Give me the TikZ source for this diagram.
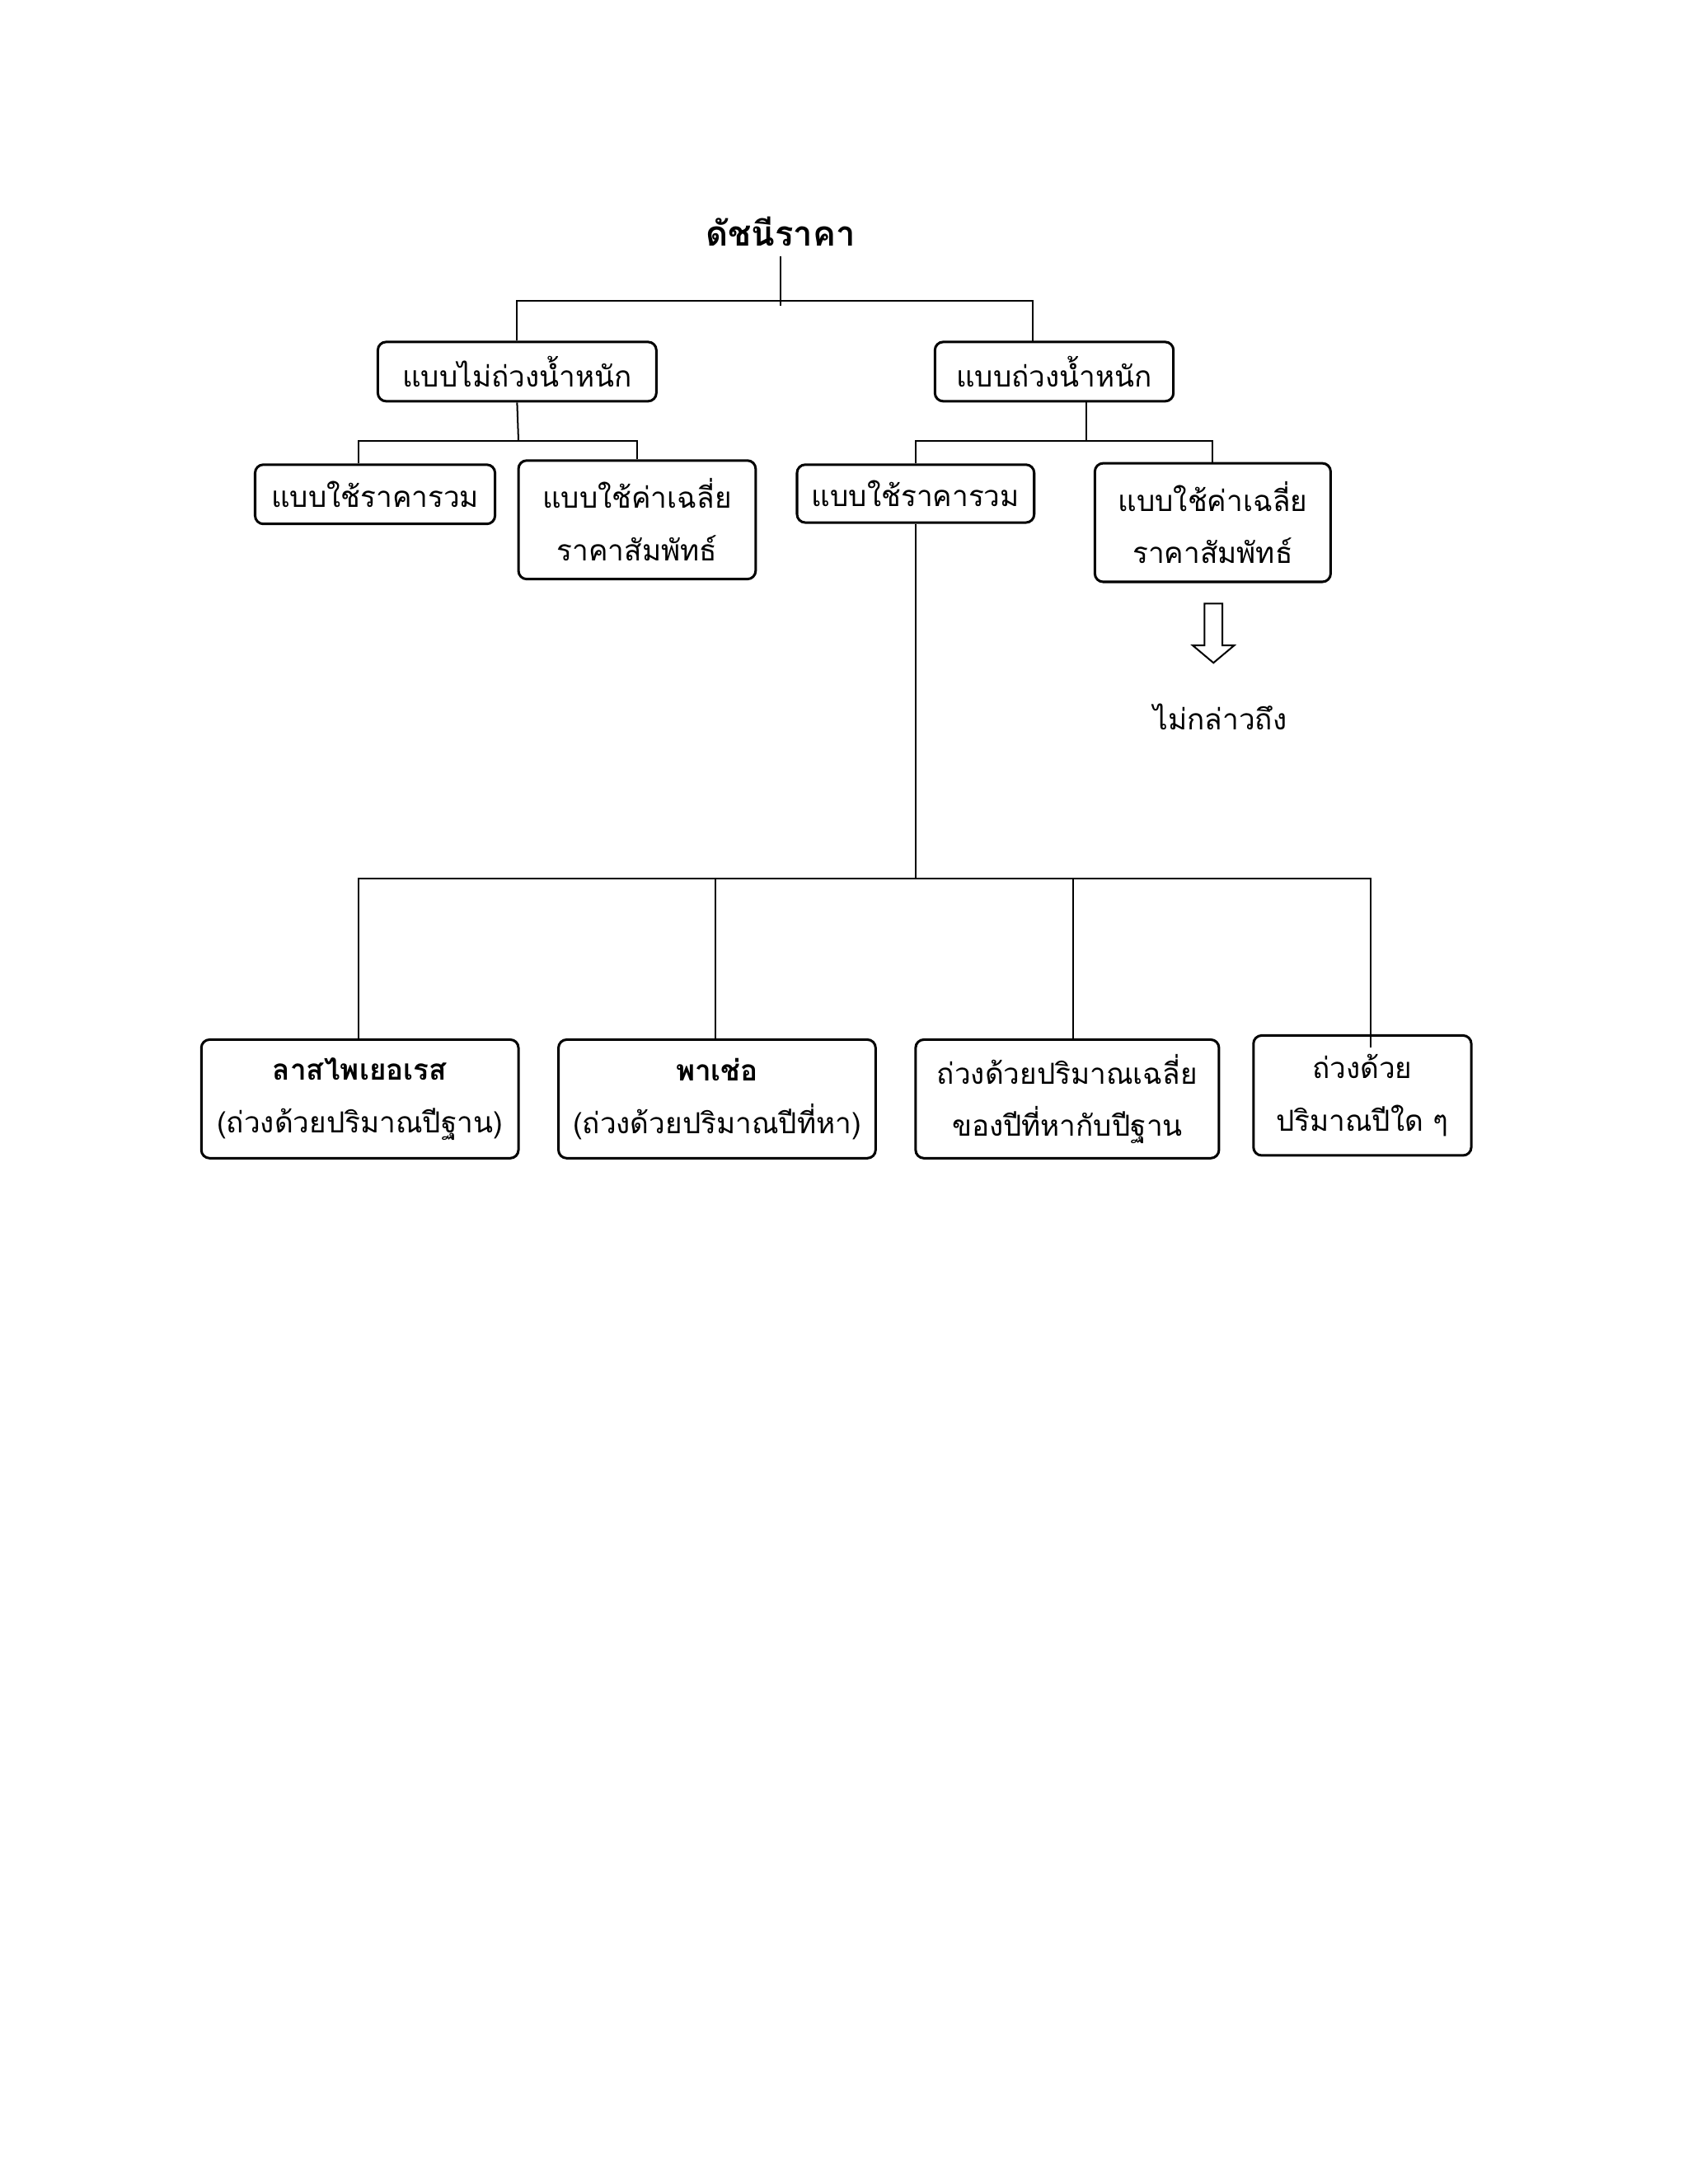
\documentclass[tikz,border=0pt]{standalone}
\usepackage{fontspec}
\newfontfamily\thaifont[Script=Thai]{Loma}
\usetikzlibrary{shapes.arrows}
\begin{document}
\begin{tikzpicture}[x=0.5pt,y=-0.5pt,
  box/.style={draw,line width=0.9pt,rounded corners=3pt,inner sep=0pt,align=center,font=\thaifont\fontsize{10.5}{19}\selectfont},
  conn/.style={line width=0.6pt}]
\useasboundingbox (0,0) rectangle (1224,1584);
\node[font=\thaifont\bfseries\fontsize{12.5}{14}\selectfont] (t) at (566,168) {ดัชนีราคา};
\node[box,minimum width=101pt,minimum height=21.5pt] (a) at (375,269.5) {แบบไม่ถ่วงน้ำหนัก};
\node[box,minimum width=86.5pt,minimum height=21.5pt] (b) at (764.5,269.5) {แบบถ่วงน้ำหนัก};
\node[box,minimum width=87pt,minimum height=21.5pt] (c) at (272,358.5) {แบบใช้ราคารวม};
\node[box,minimum width=86pt,minimum height=43pt] (d) at (462,377) {แบบใช้ค่าเฉลี่ย\\ราคาสัมพัทธ์};
\node[box,minimum width=86pt,minimum height=21pt] (e) at (664,358) {แบบใช้ราคารวม};
\node[box,minimum width=85.5pt,minimum height=43pt] (f) at (879.5,379) {แบบใช้ค่าเฉลี่ย\\ราคาสัมพัทธ์};
\node[draw,single arrow,shape border rotate=270,line width=0.6pt,minimum width=15pt,minimum height=21.5pt,single arrow head extend=3pt,single arrow tip angle=100,inner sep=2pt] (ar) at (880,456.5) {};
\node[font=\thaifont\fontsize{10.5}{12}\selectfont] (n) at (885,520) {ไม่กล่าวถึง};
\node[box,minimum width=115pt,minimum height=43pt] (p) at (261,797) {\textbf{ลาสไพเยอเรส}\\(ถ่วงด้วยปริมาณปีฐาน)};
\node[box,minimum width=115pt,minimum height=43pt] (q) at (520,797) {\textbf{พาเช่อ}\\(ถ่วงด้วยปริมาณปีที่หา)};
\node[box,minimum width=110pt,minimum height=43pt] (r) at (774,797) {ถ่วงด้วยปริมาณเฉลี่ย\\ของปีที่หากับปีฐาน};
\node[box,minimum width=79pt,minimum height=43.5pt] (s) at (988,794.5) {ถ่วงด้วย\\ปริมาณปีใด ๆ};
\coordinate (j1) at (566,218);
\coordinate (j2) at (376,320);
\coordinate (j3) at (788,320);
\coordinate (j4) at (664,637);
\draw[conn] (t.south) -- (566,222);
\draw[conn] (a.north) |- (j1) -| (749,248);
\draw[conn] (a.south) -- (j2);
\draw[conn] (c.north -| 260,0) |- (j2) -| (d.north);
\draw[conn] (b.south -| j3) -- (j3);
\draw[conn] (e.north) |- (j3) -| (f.north);
\draw[conn] (e.south) -- (j4);
\draw[conn] (p.north -| 260,0) |- (j4) -| (994,760);
\draw[conn] (q.north -| 519,0) -- (519,637);
\draw[conn] (r.north -| 778,0) -- (778,637);
\end{tikzpicture}
\end{document}
